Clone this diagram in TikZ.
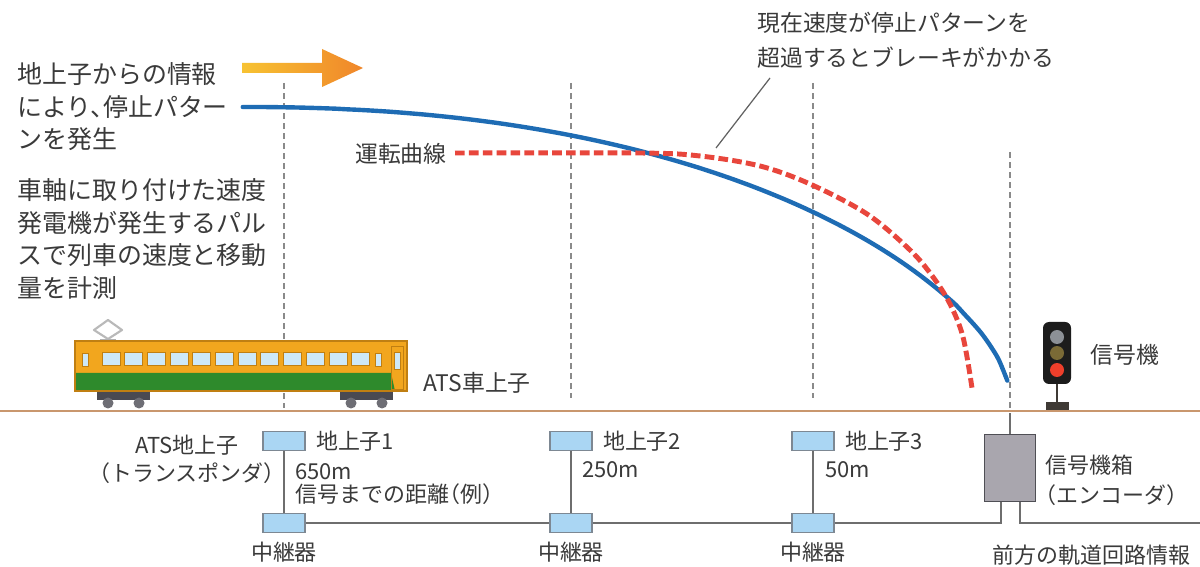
\documentclass[tikz,border=0pt]{standalone}
\usepackage{fontspec}
\setmainfont{Noto Sans CJK JP}[RawFeature=+halt]
\usetikzlibrary{positioning}

\begin{document}
\begin{tikzpicture}[
    x=0.02cm, y=-0.02cm,
    every node/.style={inner sep=0pt, text=ink},
]

% ---------------------------------------------------------------- colours
\definecolor{ink}{HTML}{3A3A3A}
\definecolor{guidegray}{HTML}{8A8A8A}
\definecolor{patternblue}{HTML}{1E6CB4}   % stop pattern
\definecolor{runred}{HTML}{E8463C}        % actual running curve
\definecolor{railtan}{HTML}{C9976E}
\definecolor{arrowyel}{HTML}{F7C232}
\definecolor{arroworg}{HTML}{F0862A}
\definecolor{wiregray}{HTML}{6E6E6E}
\definecolor{balblue}{HTML}{AAD6F3}
\definecolor{baledge}{HTML}{7D8893}
\definecolor{encfill}{HTML}{A9A6AE}
\definecolor{encedge}{HTML}{4F4F55}
\definecolor{trainyel}{HTML}{F2A61E}
\definecolor{traingreen}{HTML}{2E8A2C}
\definecolor{trainedge}{HTML}{C07F12}
\definecolor{winblue}{HTML}{CDE8F8}
\definecolor{bogiegray}{HTML}{4A4A52}
\definecolor{sigbody}{HTML}{1C1C1C}
\definecolor{lampoff}{HTML}{8C9096}
\definecolor{lampmid}{HTML}{7A6A36}
\definecolor{lampred}{HTML}{EE3F2B}
\definecolor{sigbase}{HTML}{3F3A35}

% ---------------------------------------------------------------- styles
\tikzset{
    guide/.style={guidegray, line width=0.6pt, dash pattern=on 3.4pt off 2.3pt},
    stopline/.style={patternblue, line width=2.5pt},
    runline/.style={runred, line width=2.8pt, dash pattern=on 5.5pt off 2.4pt},
    wire/.style={wiregray, line width=0.8pt},
    leader/.style={ink!80, line width=0.7pt},
    balise/.style={draw=baledge, fill=balblue, line width=0.8pt,
                   minimum width=0.84cm, minimum height=0.38cm},
    encoder/.style={draw=encedge, fill=encfill, line width=0.9pt,
                    minimum width=1.02cm, minimum height=1.34cm},
    window/.style={fill=winblue, draw=trainedge, line width=0.5pt},
    note/.style={font=\fontsize{14.2}{18.5}\selectfont, align=left},
    callout/.style={font=\fontsize{13}{20}\selectfont, align=left},
    midlbl/.style={font=\fontsize{13}{16}\selectfont},
    lbl/.style={font=\fontsize{12.5}{16}\selectfont},
}

\useasboundingbox (0,0) rectangle (1200,567);
\fill[white] (0,0) rectangle (1200,567);

% ---------------------------------------------------------------- guides
\foreach \gx/\gtop/\gbot in {284/83/408, 571/83/398, 813/83/398, 1010/152/408}
    \draw[guide] (\gx,\gtop) -- (\gx,\gbot);

% ---------------------------------------------------------------- texts, left
\node[note, anchor=west] (info) at (17,107)
    {地上子からの情報\\により、停止パター\\ンを発生};
\node[note, anchor=west] (pulse) at (17,239)
    {車軸に取り付けた速度\\発電機が発生するパル\\スで列車の速度と移動\\量を計測};

% information arrow
\shade[left color=arrowyel, right color=arroworg]
    (242,63) -- (322,63) -- (322,49) -- (363,68) -- (322,87)
    -- (322,73) -- (242,73) -- cycle;

% ---------------------------------------------------------------- curves
% stop pattern: flat at first, then falling to zero at the signal
% x = 242 + 767 t,  drop = 284 (1 - (1 - t^2.2)^0.625)
\draw[stopline, line cap=round]
    plot[domain=0.001:0.999, samples=90, variable=\t, smooth]
    ({242+767*\t}, {107+284*(1-(1-\t^2.2)^0.625)});

\node[midlbl, anchor=east] (runlbl) at (447,154) {運転曲線};
% running curve, crosses the pattern twice
\draw[runline] plot[smooth, tension=0.55] coordinates {
    (455,153) (640,153) (700,156) (760,166) (810,184) (867,214)
    (910,250) (933,277) (950,304) (963,337) (972,388)};

\node[callout, anchor=west] (brake) at (757,40)
    {現在速度が停止パターンを\\超過するとブレーキがかかる};
\coordinate (leadtop) at (770,78);
\coordinate (leadfoot) at (716,148);
\draw[leader] (leadtop) -- (leadfoot);

% ---------------------------------------------------------------- train
% bogies first, the body sits on them
\foreach \bx in {97, 340} {
    \fill[bogiegray] (\bx,391) rectangle (\bx+53,400);
    \fill[bogiegray!80] (\bx+11,403) circle[radius=0.11cm];
    \fill[bogiegray!80] (\bx+42,403) circle[radius=0.11cm];
}
% pantograph
\draw[gray!55, line width=1.2pt, line join=round]
    (94,330) -- (108,320) -- (122,330) -- (108,339) -- cycle;
\draw[gray!60, line width=1.2pt] (100,340) -- (116,340);
% body
\fill[trainyel] (75,341) rectangle (407,391);
\fill[traingreen] (75,373) -- (391,373) -- (395,391) -- (75,391) -- cycle;
\draw[trainedge, line width=0.6pt] (75,341) rectangle (407,391);
\foreach \i in {0,...,11}
    \draw[window] (102+\i*22.7,352) rectangle +(18,13);
\draw[window] (82,353) rectangle (88,366);
\draw[window] (375,353) rectangle (381,366);
\draw[trainedge, line width=0.5pt] (391,346) rectangle (403,389);
\draw[window] (394,352) rectangle (400,369);

\node[midlbl, anchor=west] (onboard) at (423,383) {ATS車上子};

% ---------------------------------------------------------------- signal
\draw[sigbase, line width=1.2pt] (1057,383) -- (1057,403);
\fill[sigbase] (1046,402) rectangle (1069,410);
\fill[sigbody, rounded corners=0.12cm] (1043,322) rectangle (1071,384);
\fill[lampoff] (1057,337) circle[radius=0.14cm];
\fill[lampmid] (1057,353) circle[radius=0.14cm];
\fill[lampred] (1057,370) circle[radius=0.14cm];
\node[midlbl, anchor=west] (signame) at (1090,355) {信号機};

% ---------------------------------------------------------------- rail
\draw[railtan, line width=1.7pt] (0,411) -- (1200,411);

% ---------------------------------------------------------------- trackside
\node[balise] (b1) at (284,441) {};
\node[balise] (b2) at (571,441) {};
\node[balise] (b3) at (813,441) {};
\node[balise] (r1) at (284,523) {};
\node[balise] (r2) at (571,523) {};
\node[balise] (r3) at (813,523) {};
\node[encoder] (enc) at (1010,468) {};

\coordinate (encup) at (1010,413);
\coordinate (encin) at (1001,523);
\coordinate (fwd) at (1200,523);

\foreach \k in {1,2,3}
    \draw[wire] (b\k) -- (r\k);
\draw[wire] (r1) -- (r2) -- (r3);
\draw[wire] (r3) -| (encin |- enc.south);
\draw[wire] ([xshift=0.2cm]enc.south) |- (fwd);
\draw[wire] (enc) -- (encup);

\node[lbl, align=center] (atsname) at (187,459)
    {ATS地上子\\（トランスポンダ）};
\node[lbl, right=0.2cm of b1] (b1name) {地上子1};
\node[lbl, right=0.2cm of b2] (b2name) {地上子2};
\node[lbl, right=0.2cm of b3] (b3name) {地上子3};
\node[lbl, anchor=west, align=left, font=\fontsize{12.5}{13.5}\selectfont]
    (b1dist) at (295,484) {650m\\信号までの距離（例）};
\node[lbl, anchor=west] (b2dist) at (582,470) {250m};
\node[lbl, anchor=west] (b3dist) at (825,470) {50m};

\foreach \k in {1,2,3}
    \node[lbl, below=0.16cm of r\k] (r\k name) {中継器};

\node[lbl, anchor=west, align=left, font=\fontsize{12.5}{17}\selectfont]
    (encname) at (1045,480) {信号機箱\\（エンコーダ）};
\node[lbl, anchor=west] (fwdinfo) at (992,555) {前方の軌道回路情報};

\end{tikzpicture}
\end{document}
